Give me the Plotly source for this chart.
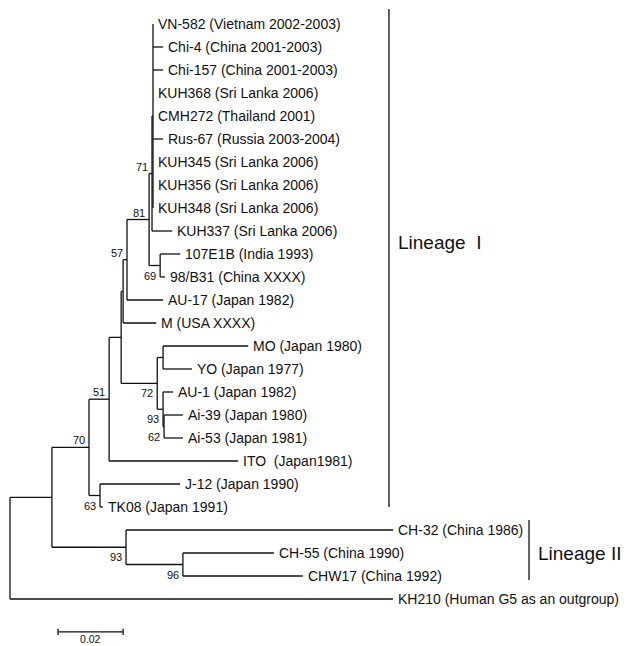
import plotly.graph_objects as go

# ---------------- data ----------------
leaf_names = [
    "VN-582 (Vietnam 2002-2003)", "Chi-4 (China 2001-2003)", "Chi-157 (China 2001-2003)",
    "KUH368 (Sri Lanka 2006)", "CMH272 (Thailand 2001)", "Rus-67 (Russia 2003-2004)",
    "KUH345 (Sri Lanka 2006)", "KUH356 (Sri Lanka 2006)", "KUH348 (Sri Lanka 2006)",
    "KUH337 (Sri Lanka 2006)", "107E1B (India 1993)", "98/B31 (China XXXX)",
    "AU-17 (Japan 1982)", "M (USA XXXX)", "MO (Japan 1980)", "YO (Japan 1977)",
    "AU-1 (Japan 1982)", "Ai-39 (Japan 1980)", "Ai-53 (Japan 1981)",
    "ITO\u00a0\u00a0(Japan1981)", "J-12 (Japan 1990)", "TK08 (Japan 1991)",
    "CH-32 (China 1986)", "CH-55 (China 1990)", "CHW17 (China 1992)",
    "KH210 (Human G5 as an outgroup)",
]
leaf_parent = ["P", "P", "P", "P", "P", "P", "P", "P", "P",
               "N71", "N69", "N69", "N57", "NY", "NMY", "NMY",
               "N93", "N62", "N62", "N51", "NJT", "NJT",
               "LII", "N96", "N96", "root"]
leaf_branch = [0.0, 0.0031, 0.0031, 0.0, 0.0, 0.0031, 0.0, 0.0, 0.0,
               0.0062, 0.0062, 0.0015, 0.0111, 0.0102, 0.0262, 0.0089,
               0.0031, 0.0058, 0.0058, 0.0397, 0.0246, 0.0009,
               0.0822, 0.0280, 0.0369, 0.1178]

node_ids = ["root", "ingroup", "LII", "N96", "N70", "NJT", "N51", "NX", "NY",
            "N57", "N81", "N71", "P", "N69", "N72", "NMY", "N93", "N62"]
node_parent = [None, "root", "ingroup", "LII", "ingroup", "N70", "N70", "N51", "NX",
               "NY", "N57", "N81", "N71", "N81", "NX", "N72", "N72", "N93"]
node_branch = [0.0, 0.0129, 0.0228, 0.0175, 0.0114, 0.0034, 0.0062, 0.0037, 0.0006,
               0.0012, 0.0068, 0.0009, 0.0003, 0.0034, 0.0111, 0.0018, 0.0018, 0.0003]
node_bootstrap = [None, None, 93, 96, 70, 63, 51, None, None,
                  57, 81, 71, None, 69, 72, None, 93, 62]

lineage_labels = ["Lineage\u00a0\u00a0I", "Lineage II"]
lineage_first_leaf = [0, 22]
lineage_last_leaf = [21, 24]
scale_bar_length = 0.02
scale_bar_label = "0.02"

# ---------------- layout of the tree ----------------
parent_of = dict(zip(node_ids, node_parent))
blen = dict(zip(node_ids, node_branch))
for n, p, b in zip(leaf_names, leaf_parent, leaf_branch):
    parent_of[n] = p
    blen[n] = b

children = {nid: [] for nid in node_ids}
for n in node_ids[1:]:
    children[parent_of[n]].append(n)
for n in leaf_names:
    children[parent_of[n]].append(n)

xpos = {}
def set_x(n, x0):
    xpos[n] = x0
    for c in children.get(n, []):
        set_x(c, x0 + blen[c])
set_x("root", 0.0)

ypos = {n: i for i, n in enumerate(leaf_names)}
def set_y(n):
    if n in ypos:
        return ypos[n]
    ys = [set_y(c) for c in children[n]]
    ypos[n] = (min(ys) + max(ys)) / 2.0
    return ypos[n]
set_y("root")

lx, ly = [], []
for n in node_ids:
    ys = [ypos[c] for c in children[n]]
    lx += [xpos[n], xpos[n], None]
    ly += [min(ys), max(ys), None]
    for c in children[n]:
        lx += [xpos[n], xpos[c], None]
        ly += [ypos[c], ypos[c], None]

PX = 3250.0  # pixels per unit
fig = go.Figure()
fig.add_trace(go.Scatter(x=lx, y=ly, mode="lines",
                         line=dict(color="#111111", width=1.3),
                         hoverinfo="skip", showlegend=False))

FONT = "Liberation Sans, Arial, Helvetica, sans-serif"
ann = []
for n in leaf_names:
    ann.append(dict(x=xpos[n], y=ypos[n], text=n, showarrow=False,
                    xanchor="left", yanchor="middle", xshift=3, yshift=0,
                    font=dict(family=FONT, size=14, color="#111111")))

for n, bs in zip(node_ids, node_bootstrap):
    if bs is None:
        continue
    p = parent_of[n]
    above = ypos[n] < ypos[p]
    ann.append(dict(x=xpos[n], y=ypos[n], text=str(bs), showarrow=False,
                    xanchor="right", yanchor="middle", xshift=-2,
                    yshift=7 if above else -10,
                    font=dict(family=FONT, size=11, color="#111111")))

# lineage brackets
x_br = [0.1166, 0.1597]
for lab, a, b, xb in zip(lineage_labels, lineage_first_leaf, lineage_last_leaf, x_br):
    top = ypos[leaf_names[a]] - (0.65 if a == 0 else 0.43)
    bot = ypos[leaf_names[b]] + (0.0 if a == 0 else 0.17)
    fig.add_trace(go.Scatter(x=[xb, xb], y=[top, bot], mode="lines",
                             line=dict(color="#111111", width=1.3),
                             hoverinfo="skip", showlegend=False))
    ymid = (ypos[leaf_names[9]] + ypos[leaf_names[10]]) / 2 if a == 0 else ypos[leaf_names[23]]
    ann.append(dict(x=xb, y=ymid, text=lab, showarrow=False, xanchor="left",
                    yanchor="middle", xshift=7,
                    font=dict(family=FONT, size=19, color="#111111")))

# scale bar
sb_x0 = 0.0148
sb_y = 26.43
tick = 0.14
fig.add_trace(go.Scatter(
    x=[sb_x0, sb_x0 + scale_bar_length, None, sb_x0, sb_x0, None,
       sb_x0 + scale_bar_length, sb_x0 + scale_bar_length],
    y=[sb_y, sb_y, None, sb_y - tick, sb_y + tick, None, sb_y - tick, sb_y + tick],
    mode="lines", line=dict(color="#111111", width=1.3),
    hoverinfo="skip", showlegend=False))
ann.append(dict(x=sb_x0 + scale_bar_length / 2, y=sb_y, text=scale_bar_label,
                showarrow=False, xanchor="center", yanchor="middle", yshift=-7,
                borderpad=0,
                font=dict(family=FONT, size=10.5, color="#111111")))

fig.update_layout(
    width=630, height=646, margin=dict(l=0, r=0, t=0, b=0),
    paper_bgcolor="white", plot_bgcolor="white", annotations=ann,
    xaxis=dict(range=[-10 / PX, 620 / PX], visible=False, fixedrange=True),
    yaxis=dict(range=[(646 - 24) / 23.0, -24 / 23.0], visible=False, fixedrange=True),
)
fig.write_html("out.html", config={"displayModeBar": False},
               post_script="document.body.style.margin='0px';document.body.style.overflow='hidden';")
